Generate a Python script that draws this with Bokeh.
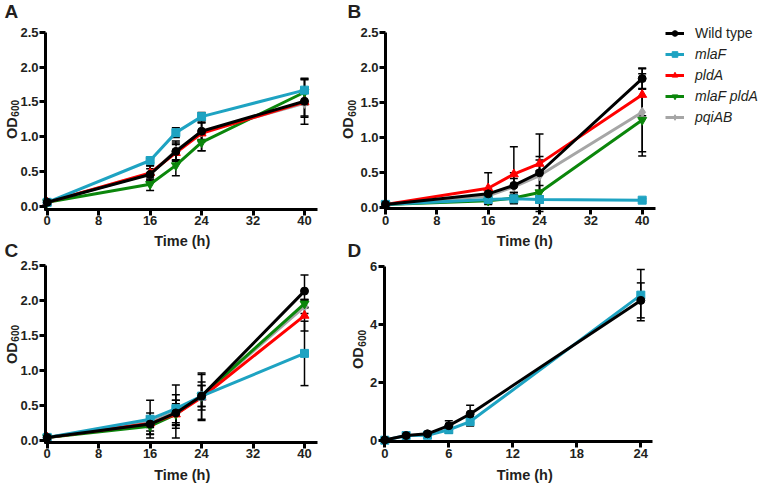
from bokeh.plotting import figure
from bokeh.models import (Range1d, FixedTicker, NumeralTickFormatter, Whisker, TeeHead,
                          ColumnDataSource, Label, Legend, LegendItem)
from bokeh.layouts import column, row
from bokeh.embed import file_html
from bokeh.resources import INLINE

# ---------------- data ----------------
time_abc = [0, 16, 20, 24, 40]
time_d = [0, 2, 4, 6, 8, 24]
x_ticks_abc = [0, 8, 16, 24, 32, 40]
x_ticks_d = [0, 6, 12, 18, 24]
y_ticks_abc = [0.0, 0.5, 1.0, 1.5, 2.0, 2.5]
y_ticks_d = [0, 2, 4, 6]
strains = ["Wild type", "mlaF", "pldA", "mlaF pldA", "pqiAB"]

# Panel A
a_wt = [0.06, 0.46, 0.79, 1.08, 1.51]
a_wt_sd = [0.01, 0.08, 0.12, 0.12, 0.33]
a_mlaF = [0.06, 0.66, 1.06, 1.29, 1.67]
a_mlaF_sd = [0.01, 0.03, 0.07, 0.06, 0.16]
a_pldA = [0.06, 0.48, 0.77, 1.05, 1.50]
a_pldA_sd = [0.01, 0.10, 0.12, 0.25, 0.20]
a_mlaF_pldA = [0.06, 0.32, 0.59, 0.92, 1.64]
a_mlaF_pldA_sd = [0.01, 0.09, 0.15, 0.12, 0.18]
a_pqiAB = [0.06, 0.47, 0.80, 1.07, 1.48]
a_pqiAB_sd = [0.01, 0.12, 0.14, 0.14, 0.20]

# Panel B
b_wt = [0.05, 0.20, 0.32, 0.50, 1.84]
b_wt_sd = [0.01, 0.05, 0.10, 0.55, 0.15]
b_mlaF = [0.05, 0.12, 0.13, 0.12, 0.11]
b_mlaF_sd = [0.01, 0.02, 0.06, 0.05, 0.02]
b_pldA = [0.05, 0.28, 0.48, 0.63, 1.61]
b_pldA_sd = [0.01, 0.22, 0.39, 0.10, 0.30]
b_mlaF_pldA = [0.05, 0.10, 0.14, 0.22, 1.25]
b_mlaF_pldA_sd = [0.01, 0.05, 0.08, 0.10, 0.45]
b_pqiAB = [0.05, 0.17, 0.30, 0.46, 1.36]
b_pqiAB_sd = [0.01, 0.10, 0.20, 0.22, 0.62]

# Panel C
c_wt = [0.05, 0.24, 0.40, 0.64, 2.14]
c_wt_sd = [0.01, 0.10, 0.18, 0.15, 0.23]
c_mlaF = [0.05, 0.31, 0.46, 0.64, 1.25]
c_mlaF_sd = [0.01, 0.27, 0.20, 0.33, 0.46]
c_pldA = [0.05, 0.25, 0.38, 0.62, 1.79]
c_pldA_sd = [0.01, 0.15, 0.20, 0.33, 0.22]
c_mlaF_pldA = [0.05, 0.21, 0.38, 0.64, 1.96]
c_mlaF_pldA_sd = [0.01, 0.12, 0.15, 0.20, 0.06]
c_pqiAB = [0.05, 0.27, 0.42, 0.64, 1.92]
c_pqiAB_sd = [0.01, 0.08, 0.38, 0.15, 0.10]

# Panel D
d_wt = [0.03, 0.18, 0.24, 0.52, 0.92, 4.82]
d_wt_sd = [0.02, 0.03, 0.05, 0.17, 0.30, 0.60]
d_mlaF = [0.02, 0.18, 0.19, 0.38, 0.66, 5.00]
d_mlaF_sd = [0.02, 0.03, 0.04, 0.12, 0.15, 0.88]

# ---------------- styles ----------------
COLORS = {"Wild type": "#000000", "mlaF": "#1ea3c2", "pldA": "#ff0000",
          "mlaF pldA": "#0b860b", "pqiAB": "#a6a6a6"}
MARKERS = {"Wild type": ("circle", 8), "mlaF": ("square", 8), "pldA": ("triangle", 9),
           "mlaF pldA": ("inverted_triangle", 9), "pqiAB": ("diamond", 10)}
DRAW_ORDER = ["pqiAB", "mlaF pldA", "pldA", "mlaF", "Wild type"]
TEXT = "#231f20"
FONT = "Liberation Sans"


class Panel:
    """A figure whose frame covers its whole canvas; layout given in page pixels."""

    def __init__(self, box, xa, ya, yaxis_px, xaxis_py, x_end_px, y_top_val, x_ticks,
                 y_ticks, y_fmt):
        self.px0, self.py0, w, h = box
        (t1, sx1), (t2, sx2) = xa
        (v1, sy1), (v2, sy2) = ya
        self.t1, self.sx1, self.v1, self.sy1 = t1, sx1, v1, sy1
        self.kx = (sx2 - sx1) / (t2 - t1)
        self.ky = (sy1 - sy2) / (v2 - v1)
        x_start, y_end = self.to_data(self.px0, self.py0)
        x_end, y_start = self.to_data(self.px0 + w, self.py0 + h)
        p = figure(width=w, height=h, output_backend="svg", toolbar_location=None,
                   x_range=Range1d(x_start, x_end), y_range=Range1d(y_start, y_end),
                   min_border=0, min_border_left=0, min_border_right=0,
                   min_border_top=0, min_border_bottom=0)
        p.outline_line_color = None
        p.xgrid.visible = False
        p.ygrid.visible = False
        p.background_fill_color = "white"
        p.border_fill_color = "white"
        p.xaxis.ticker = FixedTicker(ticks=x_ticks)
        p.yaxis.ticker = FixedTicker(ticks=y_ticks)
        p.yaxis.formatter = NumeralTickFormatter(format=y_fmt)
        ax_t, _ = self.to_data(yaxis_px, 0)
        _, ax_v = self.to_data(0, xaxis_py)
        left_t, _ = self.to_data(yaxis_px - 1.5, 0)
        _, bot_v = self.to_data(0, xaxis_py + 1.5)
        end_t, _ = self.to_data(x_end_px, 0)
        p.yaxis.fixed_location = ax_t
        p.xaxis.fixed_location = ax_v
        p.yaxis.bounds = (bot_v, y_top_val)
        p.xaxis.bounds = (left_t, end_t)
        for ax in (p.xaxis[0], p.yaxis[0]):
            ax.axis_line_width = 3
            ax.axis_line_color = "black"
            ax.major_tick_line_width = 3
            ax.major_tick_out = 6
            ax.major_tick_in = 0
            ax.minor_tick_line_color = None
            ax.major_label_text_font = FONT
            ax.major_label_text_font_style = "bold"
            ax.major_label_text_font_size = "13px"
            ax.major_label_text_color = TEXT
            ax.major_label_standoff = 1
        self.p = p

    def to_data(self, px, py):
        return (self.t1 + (px - self.sx1) / self.kx, self.v1 + (self.sy1 - py) / self.ky)

    def text(self, txt, px, py, size, style="bold", angle=0, align="center",
             baseline="middle"):
        x, y = self.to_data(px, py)
        self.p.add_layout(Label(x=x, y=y, text=txt, angle=angle, angle_units="deg",
                                text_align=align, text_baseline=baseline, text_font=FONT,
                                text_font_style=style, text_font_size=size,
                                text_color=TEXT))

    def od_label(self, cx, cy):
        # vertical "OD" with a subscript "600" (reads bottom to top)
        self.text("OD", cx, cy + 8.6, "14.5px", angle=90)
        self.text("600", cx + 3.5, cy - 11.2, "10px", angle=90)


def add_series(p, times, name, vals, sds):
    color = COLORS[name]
    upper = [v + e for v, e in zip(vals, sds)]
    lower = [v - e for v, e in zip(vals, sds)]
    src = ColumnDataSource(dict(x=times, upper=upper, lower=lower))
    w = Whisker(base="x", upper="upper", lower="lower", source=src, line_color="black",
                line_width=1.5,
                upper_head=TeeHead(size=8, line_width=1.5, line_color="black"),
                lower_head=TeeHead(size=8, line_width=1.5, line_color="black"))
    p.add_layout(w)
    ln = p.line(times, vals, line_color=color, line_width=3)
    mk, sz = MARKERS[name]
    sc = p.scatter(times, vals, marker=mk, size=sz, fill_color=color, line_color=color)
    return [ln, sc]


panel_abc = {
    "A": {"Wild type": (a_wt, a_wt_sd), "mlaF": (a_mlaF, a_mlaF_sd), "pldA": (a_pldA, a_pldA_sd),
          "mlaF pldA": (a_mlaF_pldA, a_mlaF_pldA_sd), "pqiAB": (a_pqiAB, a_pqiAB_sd)},
    "B": {"Wild type": (b_wt, b_wt_sd), "mlaF": (b_mlaF, b_mlaF_sd), "pldA": (b_pldA, b_pldA_sd),
          "mlaF pldA": (b_mlaF_pldA, b_mlaF_pldA_sd), "pqiAB": (b_pqiAB, b_pqiAB_sd)},
    "C": {"Wild type": (c_wt, c_wt_sd), "mlaF": (c_mlaF, c_mlaF_sd), "pldA": (c_pldA, c_pldA_sd),
          "mlaF pldA": (c_mlaF_pldA, c_mlaF_pldA_sd), "pqiAB": (c_pqiAB, c_pqiAB_sd)},
}

W, H = 762, 483
SPLIT_X, SPLIT_Y = 337, 231   # canvases split just below the upper x tick labels
A = Panel((0, 0, SPLIT_X, SPLIT_Y), ((0, 46.7), (40, 304.0)), ((0, 206.0), (2.5, 31.8)),
          45.0, 208.8, 317.0, 2.5, x_ticks_abc, y_ticks_abc, "0.0")
B = Panel((SPLIT_X, 0, W - SPLIT_X, SPLIT_Y), ((0, 385.0), (40, 641.7)),
          ((0, 207.4), (2.5, 31.7)), 385.0, 208.0, 655.0, 2.5, x_ticks_abc, y_ticks_abc, "0.0")
C = Panel((0, SPLIT_Y, SPLIT_X, H - SPLIT_Y), ((0, 46.7), (40, 304.0)),
          ((0, 440.4), (2.5, 265.4)), 45.0, 441.5, 317.0, 2.5, x_ticks_abc, y_ticks_abc, "0.0")
D = Panel((SPLIT_X, SPLIT_Y, W - SPLIT_X, H - SPLIT_Y), ((0, 384.3), (24, 640.3)),
          ((0, 440.3), (6, 265.5)), 383.7, 441.0, 651.7, 6, x_ticks_d, y_ticks_d, "0")

legend_renderers = {}
for key, pan in (("A", A), ("B", B), ("C", C)):
    for name in DRAW_ORDER:
        vals, sds = panel_abc[key][name]
        r = add_series(pan.p, time_abc, name, vals, sds)
        if key == "B":
            legend_renderers[name] = r

for name, vals, sds in (("mlaF", d_mlaF, d_mlaF_sd), ("Wild type", d_wt, d_wt_sd)):
    add_series(D.p, time_d, name, vals, sds)

# axis titles (the upper panels' "Time (h)" sit in the lower canvases' top strip)
A.od_label(11.0, 119.0)
B.od_label(347.5, 119.0)
C.od_label(11.0, 344.0)
D.od_label(357.5, 349.0)
C.text("Time (h)", 181.7, 240.5, "14.5px")
D.text("Time (h)", 524.2, 240.0, "14.5px")
C.text("Time (h)", 181.7, 474.0, "14.5px")
D.text("Time (h)", 524.2, 474.0, "14.5px")

# panel letters
A.text("A", 4.0, 0.0, "19px", align="left", baseline="top")
B.text("B", 347.0, 0.0, "19px", align="left", baseline="top")
C.text("C", 4.0, 239.0, "19px", align="left", baseline="top")
D.text("D", 347.0, 239.0, "19px", align="left", baseline="top")

# legends (placed inside panel B's canvas, right of its plot area)
common = dict(glyph_width=19, glyph_height=14, label_standoff=11, padding=0, margin=0,
              border_line_color=None, background_fill_alpha=0, label_text_font=FONT,
              label_text_font_size="14px", label_text_color=TEXT, spacing=5)
leg_x = 665 - B.px0
leg1 = Legend(items=[LegendItem(label=strains[0], renderers=legend_renderers[strains[0]])],
              location=(leg_x, SPLIT_Y - 40.6), label_text_font_style="normal", **common)
leg2 = Legend(items=[LegendItem(label=s, renderers=legend_renderers[s]) for s in strains[1:]],
              location=(leg_x, SPLIT_Y - 125.0), label_text_font_style="italic", **common)
B.p.add_layout(leg1)
B.p.add_layout(leg2)

layout = column(row(A.p, B.p), row(C.p, D.p))
open("out.html", "w").write(file_html(layout, INLINE))
